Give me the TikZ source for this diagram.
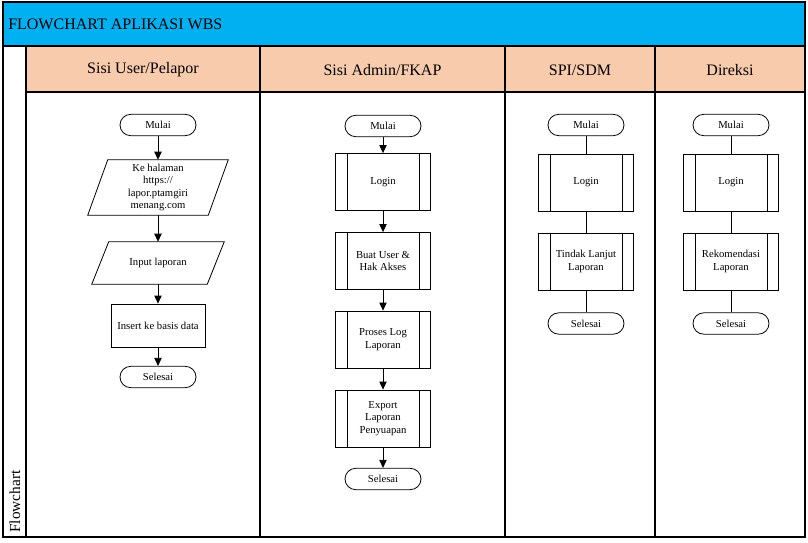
\documentclass[tikz,border=0pt]{standalone}
\usepackage{fontspec}
\setmainfont{Liberation Serif}
\newfontfamily\lserif{Liberation Serif}
\usetikzlibrary{arrows.meta}
\definecolor{titleblue}{HTML}{00B0F0}
\definecolor{laneorange}{HTML}{F8CBAD}
\begin{document}
\begin{tikzpicture}[x=0.75pt,y=-0.75pt,
  every node/.style={font=\lserif\fontsize{8}{9.4}\selectfont, inner sep=0pt, align=center},
  frameline/.style={line width=1pt, draw=black},
  shapeline/.style={draw=black, line width=0.6pt},
  term/.style={shapeline, rounded corners=8pt, minimum width=57pt, minimum height=16pt},
  procbox/.style={shapeline, minimum width=70.5pt, minimum height=32.25pt},
  subproc/.style={shapeline, minimum width=71pt, minimum height=42.75pt,
    path picture={\draw[line width=0.6pt]
      ([xshift=8.5pt]path picture bounding box.north west) -- ([xshift=8.5pt]path picture bounding box.south west)
      ([xshift=-8.5pt]path picture bounding box.north east) -- ([xshift=-8.5pt]path picture bounding box.south east);}},
  arr/.style={line width=0.6pt, -{Triangle[length=6pt,width=5.5pt]}},
  link/.style={line width=0.6pt},
  headtext/.style={font=\lserif\fontsize{12}{14}\selectfont},
]
\useasboundingbox (0,0) rectangle (808,543);
% backgrounds
\fill[white] (0,0) rectangle (808,543);
\fill[titleblue] (3,2) rectangle (805,46);
\fill[laneorange] (26,46) rectangle (805,92);
% frame lines
\draw[frameline] (3,2) rectangle (805,537);
\draw[frameline] (3,46) -- (805,46);
\draw[frameline] (26,92) -- (805,92);
\draw[frameline] (26,46) -- (26,537);
\draw[frameline] (260,46) -- (260,537);
\draw[frameline] (505,46) -- (505,537);
\draw[frameline] (655,46) -- (655,537);
% titles
\node[anchor=west, font=\lserif\fontsize{12}{14}\selectfont] (title) at (8,24) {FLOWCHART APLIKASI WBS};
\node[headtext] (h1) at (143,70) {Sisi User/Pelapor};
\node[headtext] (h2) at (382.5,70) {Sisi Admin/FKAP};
\node[headtext] (h3) at (580,70) {SPI/SDM};
\node[headtext] (h4) at (730,70) {Direksi};
\node[rotate=90, anchor=west, font=\lserif\fontsize{11.5}{13}\selectfont] (side) at (15,533) {Flowchart};

% Lane 1
\node[term] (m1) at (158,125) {Mulai};
\node[minimum width=105pt, minimum height=41.25pt] (p1) at (158,187.5) {Ke halaman\\https://\\lapor.ptamgiri\\menang.com};
\draw[shapeline] ([xshift=15pt]p1.north west) -- (p1.north east) -- ([xshift=-15pt]p1.south east) -- (p1.south west) -- cycle;
\node[minimum width=99pt, minimum height=31.5pt] (p2) at (158,263) {Input laporan};
\draw[shapeline] ([xshift=12.75pt]p2.north west) -- (p2.north east) -- ([xshift=-12.75pt]p2.south east) -- (p2.south west) -- cycle;
\node[procbox] (r1) at (158,325.5) {Insert ke basis data};
\node[term] (s1) at (158,377) {Selesai};
\draw[arr] (m1) -- (p1);
\draw[arr] (p1) -- (p2);
\draw[arr] (p2) -- (r1);
\draw[arr] (r1) -- (s1);

% Lane 2
\node[term] (m2) at (383,126) {Mulai};
\node[subproc] (l2) at (383,182) {Login};
\node[subproc] (b2) at (383,261) {Buat User \&\\Hak Akses};
\node[subproc] (pr2) at (383,339.5) {Proses Log\\Laporan};
\node[subproc] (e2) at (383,418.5) {Export\\Laporan\\Penyuapan};
\node[term] (s2) at (383,479) {Selesai};
\draw[arr] (m2) -- (l2);
\draw[arr] (l2) -- (b2);
\draw[arr] (b2) -- (pr2);
\draw[arr] (pr2) -- (e2);
\draw[arr] (e2) -- (s2);

% Lane 3
\node[term] (m3) at (586,125) {Mulai};
\node[subproc] (l3) at (586,182.5) {Login};
\node[subproc] (t3) at (586,261.5) {Tindak Lanjut\\Laporan};
\node[term] (s3) at (586,323.5) {Selesai};
\draw[link] (m3) -- (l3);
\draw[link] (l3) -- (t3);
\draw[link] (t3) -- (s3);

% Lane 4
\node[term] (m4) at (731,125) {Mulai};
\node[subproc] (l4) at (731,182.5) {Login};
\node[subproc] (k4) at (731,261.5) {Rekomendasi\\Laporan};
\node[term] (s4) at (731,323.5) {Selesai};
\draw[link] (m4) -- (l4);
\draw[link] (l4) -- (k4);
\draw[link] (k4) -- (s4);
\end{tikzpicture}
\end{document}
